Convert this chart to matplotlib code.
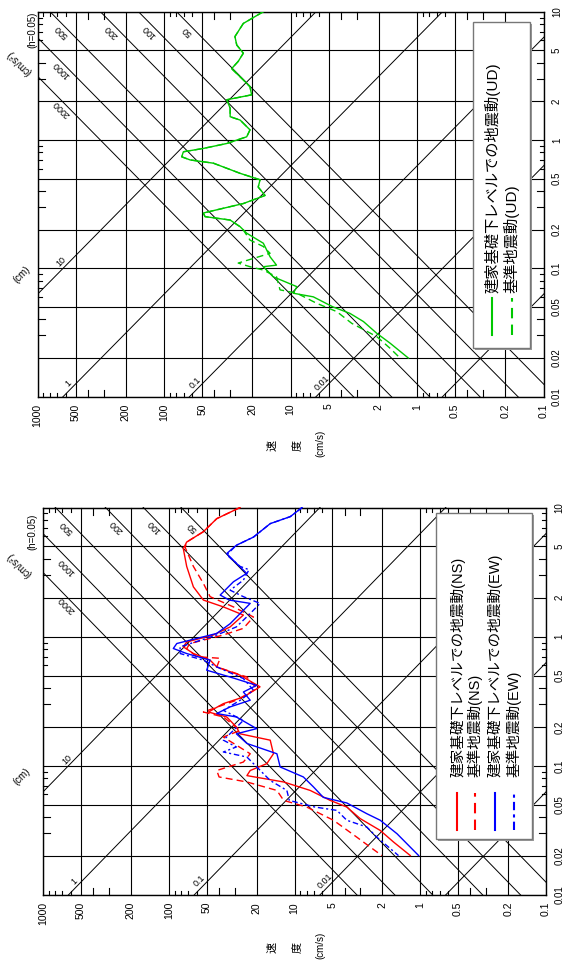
import numpy as np
import matplotlib.pyplot as plt
from matplotlib.patches import Rectangle
from matplotlib.ticker import NullLocator

plt.rcParams['font.family'] = ['Liberation Sans', 'Noto Sans CJK JP']

W, H = 566, 968

# axes: pseudo-velocity (cm/s) and period (s)
vel_ticks = [1000, 500, 200, 100, 50, 20, 10, 5, 2, 1, 0.5, 0.2, 0.1]
vel_labels = ['1000', '500', '200', '100', '50', '20', '10', '5', '2', '1', '0.5', '0.2', '0.1']
per_ticks = [0.01, 0.02, 0.05, 0.1, 0.2, 0.5, 1, 2, 5, 10]
per_labels = ['0.01', '0.02', '0.05', '0.1', '0.2', '0.5', '1', '2', '5', '10']

# tripartite guide lines
acc_lines = [50, 100, 200, 500, 1000, 2000]        # cm/s2
acc_labels = ['50', '100', '200', '500', '1000', '2000']
disp_lines = [0.001, 0.01, 0.1, 1, 10]             # cm
disp_labels = ['', '0.01', '0.1', '1', '10']

# UD (top panel)
ud_T = [10, 8.1, 6.4, 5.5, 4.75, 4.1, 3.6, 2.94, 2.6, 2.25, 2.06, 1.77, 1.52, 1.43, 1.2,
        1.06, 0.94, 0.86, 0.81, 0.74, 0.70, 0.66, 0.55, 0.49, 0.43, 0.37, 0.32, 0.27,
        0.253, 0.238, 0.211, 0.188, 0.157, 0.123, 0.106, 0.103, 0.086, 0.072, 0.064,
        0.060, 0.050, 0.0446, 0.0385, 0.0312, 0.0261, 0.02]
ud_v = [16.4, 23.6, 27.5, 26.6, 23.6, 25.9, 29.2, 23.6, 20.9, 20.3, 31.9, 30, 30, 25, 20.9,
        22.2, 31.9, 48.9, 70.3, 72.4, 62.2, 40.7, 25, 17.4, 18, 15.9, 23.6, 48.9,
        47.4, 30, 25, 22.2, 16.4, 14.5, 12.9, 16.4, 13.7, 8.9, 9.5,
        6.6, 4.6, 3.39, 2.65, 2.08, 1.63, 1.17]
ud_ref_T = [10, 8.1, 6.4, 5.5, 4.75, 4.1, 3.6, 2.94, 2.6, 2.25, 2.06, 1.77, 1.52, 1.43, 1.2,
            1.06, 0.94, 0.86, 0.81, 0.74, 0.70, 0.66, 0.55, 0.49, 0.43, 0.37, 0.32, 0.27,
            0.253, 0.238, 0.211, 0.199, 0.166, 0.148, 0.131, 0.110, 0.103, 0.097, 0.086,
            0.068, 0.064, 0.0534, 0.046, 0.0373, 0.0294, 0.0238, 0.02]
ud_ref_v = [16.4, 23.6, 27.5, 26.6, 23.6, 25.9, 29.2, 23.6, 20.9, 20.3, 31.9, 30, 30, 25, 20.9,
            22.2, 31.9, 48.9, 70.3, 72.4, 62.2, 40.7, 25, 17.4, 18, 15.9, 23.6, 48.9,
            47.4, 30, 25, 23.6, 20.9, 16.4, 14.5, 25.9, 20.9, 16.4, 12.9,
            12.1, 8.9, 6.2, 4.3, 3.28, 2.08, 1.63, 1.36]

# NS / EW (bottom panel)
ns_T = [10, 8.2, 6.5, 5.4, 4.8, 3.5, 2.43, 1.92, 1.70, 1.47, 1.19, 1.03, 0.91, 0.834, 0.741,
        0.658, 0.583, 0.503, 0.409, 0.341, 0.303, 0.261, 0.239, 0.20, 0.177, 0.158, 0.124,
        0.104, 0.092, 0.084, 0.075, 0.0645, 0.054, 0.048, 0.039, 0.0316, 0.0257, 0.0202]
ns_v = [27.1, 41.5, 53, 72, 76.6, 72, 63.7, 53, 36.8, 25.5, 32.5, 44.2, 72, 76.6, 63.7,
        46.9, 41.5, 27.1, 18.8, 25.5, 36.8, 48.4, 34.6, 29, 27.1, 15.6, 14.7,
        16.6, 22.5, 23.9, 12.2, 7.5, 5.2, 3.84, 3.0, 2.08, 1.63, 1.20]
ns_ref_T = [10, 8.2, 6.5, 5.4, 4.9, 3.5, 2.58, 2.04, 1.70, 1.42, 1.16, 1.03, 0.885, 0.81, 0.70,
            0.68, 0.583, 0.487, 0.396, 0.322, 0.261, 0.239, 0.188, 0.167, 0.124, 0.107,
            0.092, 0.082, 0.075, 0.0645, 0.054, 0.048, 0.0379, 0.028, 0.0235, 0.0202]
ns_ref_v = [27.1, 41.5, 53, 72, 74, 63.7, 53, 46.9, 30.6, 21.2, 25.5, 36.8, 67.8, 72, 60,
            39, 41.5, 23.9, 20, 29, 53, 36.8, 27.1, 36.8, 22.5, 25.5,
            41.5, 39.8, 23.9, 13.8, 12.2, 8.0, 4.9, 3.19, 2.5, 2.02]
ew_T = [10, 8.5, 7.5, 5.9, 5.1, 4.4, 3.9, 3.09, 2.66, 2.1, 1.92, 1.81, 1.60, 1.26, 1.06,
        0.885, 0.81, 0.74, 0.658, 0.55, 0.487, 0.42, 0.373, 0.322, 0.286, 0.254, 0.239,
        0.194, 0.177, 0.149, 0.124, 0.098, 0.082, 0.0686, 0.057, 0.0516, 0.0426, 0.0379,
        0.0298, 0.0202]
ew_v = [8.7, 10.8, 15.6, 21.2, 29, 34.6, 30.6, 24, 30.6, 39, 33, 22.5, 25.5, 32.5, 41.5,
        86.3, 92, 72, 46.9, 49.9, 32.5, 20, 25.5, 22.5, 32.5, 41.5, 29,
        20, 29, 23.9, 13.8, 13.0, 8.5, 7.06, 5.9, 3.84, 2.66, 2.08,
        1.53, 1.03]
ew_ref_T = [10, 8.5, 7.5, 5.9, 5.1, 4.3, 3.5, 3.3, 2.74, 2.29, 2.04, 1.81, 1.51, 1.19, 1.03,
            0.834, 0.74, 0.658, 0.583, 0.474, 0.385, 0.322, 0.269, 0.225, 0.188, 0.158,
            0.14, 0.128, 0.117, 0.077, 0.0645, 0.054, 0.048, 0.0452, 0.0379, 0.0336,
            0.028, 0.0202]
ew_ref_v = [8.7, 10.8, 15.6, 21.2, 29, 34.6, 27.1, 23, 25.5, 32.5, 25.5, 18.8, 22.5, 29, 41.5,
            81.3, 81, 53, 41.5, 25.5, 21.2, 27, 36.8, 25.5, 30.6, 36.8,
            29, 36.8, 23.9, 15.6, 11.5, 11, 6.9, 4.6, 3.84, 2.66,
            2.21, 1.49]

GREEN, RED, BLUE = '#00c800', '#ff0000', '#0000ff'
DASH = (0, (5, 3))
DASHDOT = (0, (4, 2, 1.5, 2))

fig = plt.figure(figsize=(W / 100, H / 100), dpi=100)


def px(x, y):
    return x / W, 1 - y / H


def panel(box, curves, legend_box, legend_x, text_y, sample_y, leg_fs):
    x0, y0, x1, y1 = box
    ax = fig.add_axes([x0 / W, 1 - y1 / H, (x1 - x0) / W, (y1 - y0) / H])
    ax.set_xscale('log')
    ax.set_yscale('log')
    ax.set_xlim(1000, 0.1)
    ax.set_ylim(0.01, 10)
    wpx, hpx = x1 - x0, y1 - y0

    T = np.array([0.001, 100.0])
    for a in acc_lines:
        ax.plot(a * T / (2 * np.pi), T, color='k', lw=0.7, zorder=1)
    for d in disp_lines:
        ax.plot(2 * np.pi * d / T, T, color='k', lw=0.7, zorder=1)
    for a, s in zip(acc_lines, acc_labels):
        t = min(7.6, 2 * np.pi * 600 / a)
        ax.annotate(s, (a * t / (2 * np.pi), t), xytext=(-4, -4), textcoords='offset pixels',
                    rotation=135, ha='center', va='center', fontsize=6.5)
    for d, s in zip(disp_lines, disp_labels):
        if not s:
            continue
        t = max(0.0119, 2 * np.pi * d / 600)
        ax.annotate(s, (2 * np.pi * d / t, t), xytext=(-4, 4), textcoords='offset pixels',
                    rotation=45, ha='center', va='center', fontsize=6.5)

    ax.set_xticks(vel_ticks)
    ax.set_xticklabels(vel_labels)
    ax.yaxis.tick_right()
    ax.set_yticks(per_ticks)
    ax.set_yticklabels(per_labels)
    ax.xaxis.set_minor_locator(NullLocator())
    ax.yaxis.set_minor_locator(NullLocator())
    ax.tick_params(axis='x', length=0, pad=5, labelsize=7.5, labelrotation=90)
    ax.tick_params(axis='y', length=0, pad=6, labelsize=7, labelrotation=90)
    for lab in ax.get_yticklabels():
        lab.set_va('center')
    ax.grid(True, which='major', color='k', lw=0.8, zorder=1)
    for sp in ax.spines.values():
        sp.set_linewidth(1.0)

    # inner minor ticks, drawn by hand (two lengths)
    tx = ax.get_xaxis_transform()
    ty = ax.get_yaxis_transform()
    for dec in [0.1, 1, 10, 100]:
        for m in [3, 4, 6, 7, 8, 9]:
            L = (7 if m < 5 else 4) / hpx
            ax.plot([m * dec] * 2, [0, L], color='k', lw=0.8, transform=tx, clip_on=False)
            ax.plot([m * dec] * 2, [1 - L, 1], color='k', lw=0.8, transform=tx, clip_on=False)
    for dec in [0.01, 0.1, 1]:
        for m in [3, 4, 6, 7, 8, 9]:
            L = (7 if m < 5 else 4) / wpx
            ax.plot([0, L], [m * dec] * 2, color='k', lw=0.8, transform=ty, clip_on=False)
            ax.plot([1 - L, 1], [m * dec] * 2, color='k', lw=0.8, transform=ty, clip_on=False)

    for v, t, c, ls, lab in curves:
        ax.plot(v, t, color=c, ls=ls, lw=1.0, zorder=3)

    # legend drawn by hand (rotated entries)
    lx0, ly0, lx1, ly1 = legend_box
    ax.add_patch(Rectangle((lx0 + 2 / wpx, ly0 - 2 / hpx), lx1 - lx0, ly1 - ly0,
                           transform=ax.transAxes, facecolor='#999999', edgecolor='none', zorder=4))
    ax.add_patch(Rectangle((lx0, ly0), lx1 - lx0, ly1 - ly0, transform=ax.transAxes,
                           facecolor='white', edgecolor='#777777', lw=1.0, zorder=5))
    for (v, t, c, ls, lab), x in zip(curves, legend_x):
        ax.plot([x, x], sample_y, color=c, ls=ls, lw=1.5, transform=ax.transAxes, zorder=6)
        ax.text(x, text_y, lab, rotation=90, ha='center', va='bottom', fontsize=leg_fs,
                transform=ax.transAxes, zorder=6)
    return ax


panel((37.5, 11.7, 543.5, 396.7),
      [(ud_v, ud_T, GREEN, '-', '建家基礎下レベルでの地震動(UD)'),
       (ud_ref_v, ud_ref_T, GREEN, DASH, '基準地震動(UD)')],
      (0.861, 0.126, 0.973, 0.974), [0.899, 0.937], 0.269, [0.160, 0.256], 11)

panel((43, 507.5, 546, 895),
      [(ns_v, ns_T, RED, '-', '建家基礎下レベルでの地震動(NS)'),
       (ns_ref_v, ns_ref_T, RED, DASH, '基準地震動(NS)'),
       (ew_v, ew_T, BLUE, '-', '建家基礎下レベルでの地震動(EW)'),
       (ew_ref_v, ew_ref_T, BLUE, DASHDOT, '基準地震動(EW)')],
      (0.781, 0.144, 0.972, 0.985), [0.824, 0.859, 0.899, 0.936], 0.305, [0.168, 0.264], 10.5)

# side annotations
for yo in [0, 502]:
    fig.text(*px(32, 30 + yo), '(h=0.05)', rotation=90, ha='center', va='center', fontsize=7)
    fig.text(*px(19, 63 + yo), '(cm/s²)', rotation=135, ha='center', va='center', fontsize=7)
    fig.text(*px(22, 275 + yo), '(cm)', rotation=45, ha='center', va='center', fontsize=7)
    fig.text(*px(272, 445 + yo), '速', rotation=90, ha='center', va='center', fontsize=8)
    fig.text(*px(297, 445 + yo), '度', rotation=90, ha='center', va='center', fontsize=8)
    fig.text(*px(320, 443 + yo), '(cm/s)', rotation=90, ha='center', va='center', fontsize=7)

fig.savefig('out.png', dpi=100)
